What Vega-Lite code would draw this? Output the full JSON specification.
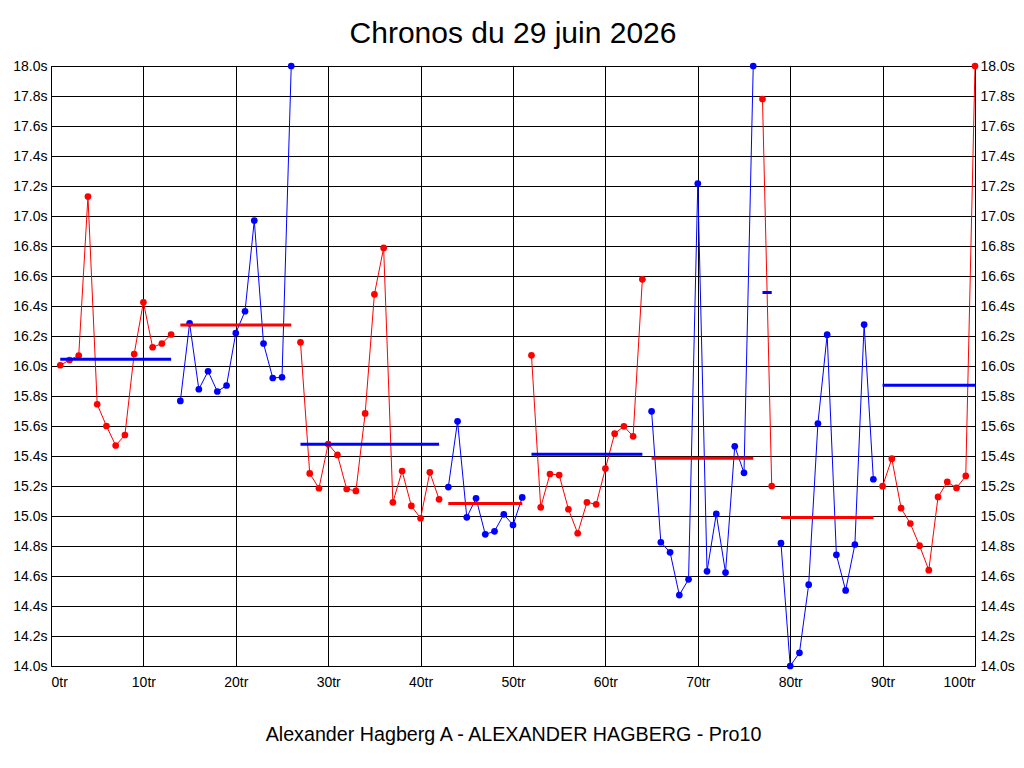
{
  "$schema": "https://vega.github.io/schema/vega-lite/v6.json",
  "width": 924,
  "height": 600,
  "autosize": "none",
  "padding": {"left": 51, "top": 66, "right": 49, "bottom": 102},
  "background": "white",
  "title": {
    "text": "Chronos du 29 juin 2026",
    "fontSize": 30,
    "fontWeight": "normal",
    "font": "Liberation Sans",
    "color": "black",
    "offset": 10
  },
  "config": {
    "font": "Liberation Sans",
    "view": {"stroke": "black", "strokeWidth": 1},
    "axis": {
      "domain": false,
      "ticks": false,
      "gridColor": "black",
      "gridOpacity": 1,
      "gridWidth": 1,
      "labelFont": "Liberation Sans",
      "labelFontSize": 14,
      "labelColor": "black",
      "titleFont": "Liberation Sans",
      "titleColor": "black"
    }
  },
  "datasets": {
    "laps": [
      {"lap": 1, "time": 16.005, "seg": 1, "grp": "A"},
      {"lap": 2, "time": 16.04, "seg": 1, "grp": "A"},
      {"lap": 3, "time": 16.07, "seg": 1, "grp": "A"},
      {"lap": 4, "time": 17.13, "seg": 1, "grp": "A"},
      {"lap": 5, "time": 15.745, "seg": 1, "grp": "A"},
      {"lap": 6, "time": 15.6, "seg": 1, "grp": "A"},
      {"lap": 7, "time": 15.47, "seg": 1, "grp": "A"},
      {"lap": 8, "time": 15.54, "seg": 1, "grp": "A"},
      {"lap": 9, "time": 16.08, "seg": 1, "grp": "A"},
      {"lap": 10, "time": 16.425, "seg": 1, "grp": "A"},
      {"lap": 11, "time": 16.125, "seg": 1, "grp": "A"},
      {"lap": 12, "time": 16.15, "seg": 1, "grp": "A"},
      {"lap": 13, "time": 16.21, "seg": 1, "grp": "A"},
      {"lap": 14, "time": 15.767, "seg": 2, "grp": "B"},
      {"lap": 15, "time": 16.285, "seg": 2, "grp": "B"},
      {"lap": 16, "time": 15.845, "seg": 2, "grp": "B"},
      {"lap": 17, "time": 15.965, "seg": 2, "grp": "B"},
      {"lap": 18, "time": 15.83, "seg": 2, "grp": "B"},
      {"lap": 19, "time": 15.87, "seg": 2, "grp": "B"},
      {"lap": 20, "time": 16.22, "seg": 2, "grp": "B"},
      {"lap": 21, "time": 16.365, "seg": 2, "grp": "B"},
      {"lap": 22, "time": 16.97, "seg": 2, "grp": "B"},
      {"lap": 23, "time": 16.15, "seg": 2, "grp": "B"},
      {"lap": 24, "time": 15.92, "seg": 2, "grp": "B"},
      {"lap": 25, "time": 15.925, "seg": 2, "grp": "B"},
      {"lap": 26, "time": 18.0, "seg": 2, "grp": "B"},
      {"lap": 27, "time": 16.158, "seg": 3, "grp": "A"},
      {"lap": 28, "time": 15.284, "seg": 3, "grp": "A"},
      {"lap": 29, "time": 15.185, "seg": 3, "grp": "A"},
      {"lap": 30, "time": 15.48, "seg": 3, "grp": "A"},
      {"lap": 31, "time": 15.407, "seg": 3, "grp": "A"},
      {"lap": 32, "time": 15.18, "seg": 3, "grp": "A"},
      {"lap": 33, "time": 15.167, "seg": 3, "grp": "A"},
      {"lap": 34, "time": 15.684, "seg": 3, "grp": "A"},
      {"lap": 35, "time": 16.478, "seg": 3, "grp": "A"},
      {"lap": 36, "time": 16.787, "seg": 3, "grp": "A"},
      {"lap": 37, "time": 15.091, "seg": 3, "grp": "A"},
      {"lap": 38, "time": 15.3, "seg": 3, "grp": "A"},
      {"lap": 39, "time": 15.067, "seg": 3, "grp": "A"},
      {"lap": 40, "time": 14.985, "seg": 3, "grp": "A"},
      {"lap": 41, "time": 15.291, "seg": 3, "grp": "A"},
      {"lap": 42, "time": 15.111, "seg": 3, "grp": "A"},
      {"lap": 43, "time": 15.193, "seg": 4, "grp": "B"},
      {"lap": 44, "time": 15.631, "seg": 4, "grp": "B"},
      {"lap": 45, "time": 14.991, "seg": 4, "grp": "B"},
      {"lap": 46, "time": 15.118, "seg": 4, "grp": "B"},
      {"lap": 47, "time": 14.878, "seg": 4, "grp": "B"},
      {"lap": 48, "time": 14.898, "seg": 4, "grp": "B"},
      {"lap": 49, "time": 15.011, "seg": 4, "grp": "B"},
      {"lap": 50, "time": 14.94, "seg": 4, "grp": "B"},
      {"lap": 51, "time": 15.124, "seg": 4, "grp": "B"},
      {"lap": 52, "time": 16.071, "seg": 5, "grp": "A"},
      {"lap": 53, "time": 15.058, "seg": 5, "grp": "A"},
      {"lap": 54, "time": 15.28, "seg": 5, "grp": "A"},
      {"lap": 55, "time": 15.273, "seg": 5, "grp": "A"},
      {"lap": 56, "time": 15.045, "seg": 5, "grp": "A"},
      {"lap": 57, "time": 14.885, "seg": 5, "grp": "A"},
      {"lap": 58, "time": 15.091, "seg": 5, "grp": "A"},
      {"lap": 59, "time": 15.078, "seg": 5, "grp": "A"},
      {"lap": 60, "time": 15.316, "seg": 5, "grp": "A"},
      {"lap": 61, "time": 15.549, "seg": 5, "grp": "A"},
      {"lap": 62, "time": 15.598, "seg": 5, "grp": "A"},
      {"lap": 63, "time": 15.531, "seg": 5, "grp": "A"},
      {"lap": 64, "time": 16.578, "seg": 5, "grp": "A"},
      {"lap": 65, "time": 15.698, "seg": 6, "grp": "B"},
      {"lap": 66, "time": 14.825, "seg": 6, "grp": "B"},
      {"lap": 67, "time": 14.758, "seg": 6, "grp": "B"},
      {"lap": 68, "time": 14.473, "seg": 6, "grp": "B"},
      {"lap": 69, "time": 14.578, "seg": 6, "grp": "B"},
      {"lap": 70, "time": 17.216, "seg": 6, "grp": "B"},
      {"lap": 71, "time": 14.631, "seg": 6, "grp": "B"},
      {"lap": 72, "time": 15.014, "seg": 6, "grp": "B"},
      {"lap": 73, "time": 14.623, "seg": 6, "grp": "B"},
      {"lap": 74, "time": 15.465, "seg": 6, "grp": "B"},
      {"lap": 75, "time": 15.288, "seg": 6, "grp": "B"},
      {"lap": 76, "time": 18.0, "seg": 6, "grp": "B"},
      {"lap": 77, "time": 17.78, "seg": 7, "grp": "A"},
      {"lap": 78, "time": 15.2, "seg": 7, "grp": "A"},
      {"lap": 79, "time": 14.819, "seg": 8, "grp": "B"},
      {"lap": 80, "time": 14.0, "seg": 8, "grp": "B"},
      {"lap": 81, "time": 14.088, "seg": 8, "grp": "B"},
      {"lap": 82, "time": 14.542, "seg": 8, "grp": "B"},
      {"lap": 83, "time": 15.616, "seg": 8, "grp": "B"},
      {"lap": 84, "time": 16.209, "seg": 8, "grp": "B"},
      {"lap": 85, "time": 14.741, "seg": 8, "grp": "B"},
      {"lap": 86, "time": 14.504, "seg": 8, "grp": "B"},
      {"lap": 87, "time": 14.81, "seg": 8, "grp": "B"},
      {"lap": 88, "time": 16.276, "seg": 8, "grp": "B"},
      {"lap": 89, "time": 15.245, "seg": 8, "grp": "B"},
      {"lap": 90, "time": 15.199, "seg": 9, "grp": "A"},
      {"lap": 91, "time": 15.382, "seg": 9, "grp": "A"},
      {"lap": 92, "time": 15.052, "seg": 9, "grp": "A"},
      {"lap": 93, "time": 14.95, "seg": 9, "grp": "A"},
      {"lap": 94, "time": 14.802, "seg": 9, "grp": "A"},
      {"lap": 95, "time": 14.639, "seg": 9, "grp": "A"},
      {"lap": 96, "time": 15.127, "seg": 9, "grp": "A"},
      {"lap": 97, "time": 15.227, "seg": 9, "grp": "A"},
      {"lap": 98, "time": 15.187, "seg": 9, "grp": "A"},
      {"lap": 99, "time": 15.267, "seg": 9, "grp": "A"},
      {"lap": 100, "time": 18.0, "seg": 9, "grp": "A"}
    ],
    "means": [
      {"seg": 1, "from": 1, "to": 13, "mean": 16.045, "grp": "B"},
      {"seg": 2, "from": 14, "to": 26, "mean": 16.273, "grp": "A"},
      {"seg": 3, "from": 27, "to": 42, "mean": 15.478, "grp": "B"},
      {"seg": 4, "from": 43, "to": 51, "mean": 15.084, "grp": "A"},
      {"seg": 5, "from": 52, "to": 64, "mean": 15.411, "grp": "B"},
      {"seg": 6, "from": 65, "to": 76, "mean": 15.385, "grp": "A"},
      {"seg": 7, "from": 77, "to": 78, "mean": 16.49, "grp": "B"},
      {"seg": 8, "from": 79, "to": 89, "mean": 14.99, "grp": "A"},
      {"seg": 9, "from": 90, "to": 100, "mean": 15.872, "grp": "B"}
    ]
  },
  "layer": [
    {
      "data": {"name": "laps"},
      "mark": {"type": "line", "strokeWidth": 1},
      "encoding": {
        "x": {
          "field": "lap",
          "type": "quantitative",
          "scale": {"domain": [0, 100], "nice": false, "zero": false},
          "axis": {
            "orient": "bottom",
            "values": [0, 10, 20, 30, 40, 50, 60, 70, 80, 90, 100],
            "labelExpr": "datum.value + 'tr'",
            "labelPadding": 9,
            "title": "Alexander Hagberg A - ALEXANDER HAGBERG - Pro10",
            "titleFontSize": 19.7,
            "titleFontWeight": "normal",
            "titlePadding": 35
          }
        },
        "y": {
          "field": "time",
          "type": "quantitative",
          "scale": {"domain": [14, 18], "nice": false, "zero": false},
          "axis": {
            "orient": "left",
            "values": [14, 14.2, 14.4, 14.6, 14.8, 15, 15.2, 15.4, 15.6, 15.8, 16, 16.2, 16.4, 16.6, 16.8, 17, 17.2, 17.4, 17.6, 17.8, 18],
            "labelExpr": "format(datum.value, '.1f') + 's'",
            "labelPadding": 4,
            "title": null
          }
        },
        "color": {
          "field": "grp",
          "type": "nominal",
          "scale": {"domain": ["A", "B"], "range": ["#ff0000", "#0000ff"]},
          "legend": null
        },
        "detail": {"field": "seg"}
      }
    },
    {
      "data": {"name": "laps"},
      "mark": {"type": "point", "filled": true, "size": 45, "opacity": 1, "strokeWidth": 0},
      "encoding": {
        "x": {"field": "lap", "type": "quantitative"},
        "y": {
          "field": "time",
          "type": "quantitative",
          "axis": {
            "orient": "right",
            "grid": false,
            "values": [14, 14.2, 14.4, 14.6, 14.8, 15, 15.2, 15.4, 15.6, 15.8, 16, 16.2, 16.4, 16.6, 16.8, 17, 17.2, 17.4, 17.6, 17.8, 18],
            "labelExpr": "format(datum.value, '.1f') + 's'",
            "labelPadding": 5,
            "title": null
          }
        },
        "color": {"field": "grp", "type": "nominal", "legend": null}
      }
    },
    {
      "data": {"name": "means"},
      "mark": {"type": "rule", "strokeWidth": 3},
      "encoding": {
        "x": {"field": "from", "type": "quantitative"},
        "x2": {"field": "to"},
        "y": {"field": "mean", "type": "quantitative", "axis": null},
        "color": {"field": "grp", "type": "nominal", "legend": null}
      }
    }
  ],
  "resolve": {"axis": {"y": "independent"}}
}
